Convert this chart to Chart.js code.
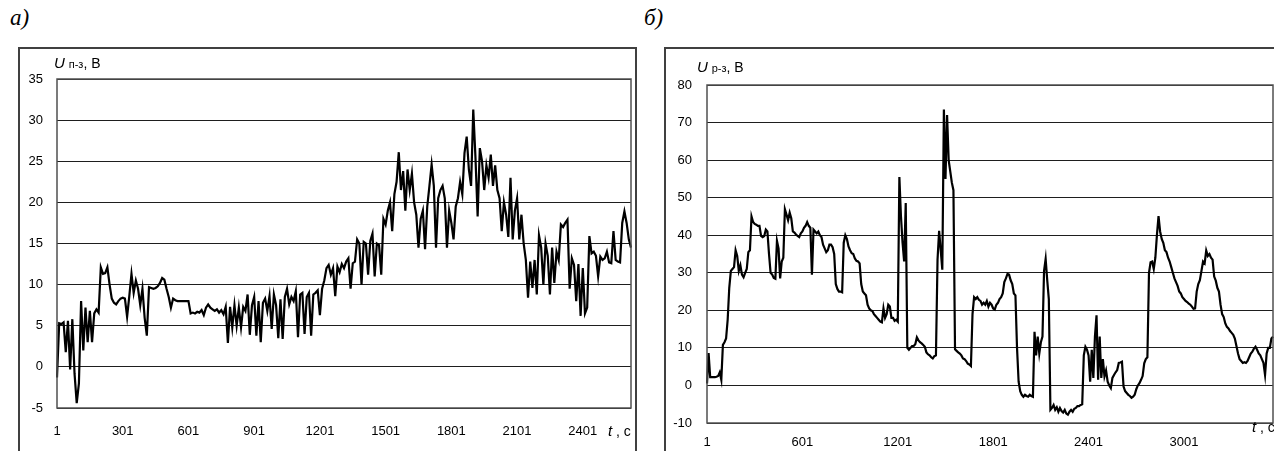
<!DOCTYPE html>
<html>
<head>
<meta charset="utf-8">
<script src="https://cdn.jsdelivr.net/npm/chart.js@4.4.1/dist/chart.umd.min.js"></script>
<style>
  body { margin: 0; width: 1274px; height: 451px; overflow: hidden; background: #fff; position: relative; }
  .fig { position: absolute; top: 5px; font: italic 23px "Liberation Serif", "Times New Roman", serif; color: #000; }
  .panel { position: absolute; top: 47px; height: 420px; border: 2px solid #404040; }
  .panel canvas { position: absolute; left: 0; top: 0; }
  .ttl { position: absolute; font: 14px "Liberation Sans", Arial, sans-serif; color: #000; white-space: nowrap; }
  .ttl i { font-size: 15px; }
  .ttl small { font-size: 11px; }
</style>
</head>
<body>
<div class="fig" style="left:10px">а)</div>
<div class="fig" style="left:644px">б)</div>

<div class="panel" style="left:18px; width:615px;">
  <canvas id="chartA" width="615" height="402"></canvas>
</div>
<div class="panel" style="left:664px; width:640px;">
  <canvas id="chartB" width="627" height="402"></canvas>
</div>

<div class="ttl" style="left:54px; top:54px;"><i>U</i> <small>п-з</small>, В</div>
<div class="ttl" style="left:697px; top:58px;"><i>U</i> <small>р-з</small>, В</div>
<div class="ttl" style="left:608px; top:422px;"><i>t</i> , с</div>
<div class="ttl" style="left:1252px; top:418px;"><i>t</i> , с</div>

<script>
// sample step between stored points (seconds)
const STEP_A = 10;
const STEP_B = 10;

// а) U п-з, В — every 10th sample, t = 1, 11, 21 ...
const uA = [
  -1.3, 5.3, 5.2, 5.4, 1.8, 5.6, -0.3, 5.8, -0.8, -4.4,
  -2.0, 8.0, 2.0, 7.2, 3.0, 6.8, 3.0, 6.5, 7.0, 6.6,
  12.1, 11.3, 11.4, 12.1, 10.0, 8.3, 7.8, 7.6, 8.0, 8.3,
  8.4, 8.3, 6.1, 8.6, 11.3, 9.0, 10.5, 9.5, 7.5, 9.5,
  6.0, 3.8, 9.7, 9.6, 9.5, 9.6, 9.8, 10.2, 10.8, 10.6,
  9.5, 8.5, 7.2, 8.3, 8.1, 8.0, 8.0, 8.0, 8.0, 8.0,
  8.0, 6.5, 6.6, 6.5, 6.7, 6.6, 6.9, 6.3, 7.2, 7.6,
  7.2, 7.0, 6.8, 7.0, 6.6, 6.9, 6.4, 7.3, 2.9, 7.3,
  4.8, 7.5, 5.0, 7.2, 4.8, 7.3, 6.8, 8.8, 3.9, 7.5,
  8.5, 3.8, 8.0, 3.0, 7.8, 8.3, 6.8, 8.6, 4.6, 8.8,
  7.5, 3.5, 8.2, 3.4, 8.5, 9.5, 7.6, 8.5, 8.0, 9.2,
  3.6, 8.8, 9.0, 4.0, 8.5, 9.0, 3.8, 8.8, 9.0, 9.3,
  6.3, 9.5, 10.5, 12.0, 12.4, 11.2, 12.0, 8.6, 12.2, 11.5,
  12.5, 12.0, 12.8, 13.2, 9.5, 12.6, 12.8, 15.5, 15.0, 10.0,
  15.2, 15.0, 11.2, 15.3, 16.2, 11.0, 15.0, 14.8, 11.2, 18.0,
  17.3, 19.0, 20.0, 16.5, 21.0, 22.5, 26.1, 21.5, 23.8, 19.0,
  24.0, 21.5, 23.5, 20.0, 18.5, 14.5, 18.0, 19.0, 14.3, 19.5,
  22.0, 24.6, 22.0, 14.5, 20.5, 21.5, 22.0, 20.5, 14.5, 19.0,
  17.5, 15.5, 19.5, 20.5, 22.5, 21.0, 26.0, 28.0, 24.0, 22.0,
  31.3, 25.5, 18.3, 26.6, 25.0, 21.5, 24.5, 23.0, 25.8, 22.0,
  24.5, 21.5, 20.5, 16.5, 20.0, 18.5, 15.8, 23.0, 15.5, 19.0,
  20.5, 15.5, 18.5, 15.0, 13.0, 8.4, 12.8, 9.6, 13.0, 8.8,
  16.0, 14.5, 10.0, 15.0, 13.5, 8.8, 14.5, 10.2, 14.0, 13.0,
  17.3, 17.0, 17.5, 17.9, 9.5, 13.2, 12.4, 8.0, 12.5, 6.2,
  12.0, 6.5, 7.2, 15.9, 13.8, 14.0, 13.5, 11.0, 13.4, 13.0,
  13.2, 14.0, 12.7, 12.6, 16.5, 13.0, 12.8, 12.7, 17.5, 18.9,
  17.5, 15.5, 14.5
];

// б) U р-з, В — every 10th sample
const uB = [
  0.5, 8.6, 2.2, 2.2, 2.2, 2.2, 2.3, 2.5, 3.5, 1.5,
  10.8, 11.5, 12.5, 17.5, 26.0, 30.5, 31.0, 31.5, 36.0, 34.5,
  30.5, 32.0, 29.5, 28.8, 30.0, 31.0, 35.5, 36.0, 45.0, 43.5,
  43.0, 42.8, 42.5, 42.5, 39.8, 39.5, 39.8, 41.5, 41.0, 35.0,
  30.0, 29.5, 28.6, 28.4, 38.5, 36.5, 28.5, 33.0, 34.0, 46.9,
  45.5, 44.0, 46.0, 44.5, 41.0, 40.7, 40.2, 39.8, 39.5, 40.5,
  41.0, 42.0, 42.5, 43.5, 42.5, 42.0, 29.5, 41.5, 41.0, 40.5,
  41.0, 40.0, 39.5, 37.5, 36.5, 35.5, 36.0, 37.5, 37.5, 36.8,
  35.0, 27.0, 25.7, 25.0, 25.0, 24.8, 38.0, 40.0, 39.0, 37.0,
  36.0, 35.2, 35.0, 33.8, 33.2, 33.0, 32.5, 27.0, 25.0, 24.5,
  24.0, 21.5, 20.5, 20.0, 19.8, 19.0, 18.5, 18.0, 17.5, 17.0,
  16.8, 20.5, 18.0, 19.0, 21.5, 21.0, 18.0, 18.0, 17.2, 17.5,
  17.0, 55.5, 45.0, 38.0, 33.0, 48.6, 10.0, 9.5, 10.0, 10.5,
  10.5, 11.0, 12.8, 12.0, 11.5, 11.2, 10.8, 10.3, 8.8, 8.3,
  8.0, 7.5, 7.2, 7.8, 8.0, 33.5, 41.2, 36.0, 30.8, 73.5,
  55.0, 72.0, 60.0, 57.0, 54.0, 52.0, 9.6, 9.2, 8.8, 8.5,
  8.0, 7.2, 7.0, 6.5, 5.8, 5.6, 5.2, 19.0, 23.5, 23.0,
  23.5, 22.8, 22.5, 21.5, 22.0, 21.5, 22.5, 21.0, 22.0, 21.5,
  20.5, 20.2, 21.5, 22.0, 23.0, 23.5, 24.5, 27.5, 28.5, 29.7,
  29.5, 28.0, 27.0, 24.5, 24.0, 10.0, 1.0, -1.5, -2.5, -3.0,
  -2.5, -2.8, -3.0, -2.5, -2.8, -3.0, 14.3, 8.0, 13.0, 8.5,
  11.5, 13.0, 30.5, 33.7, 28.0, 23.0, -6.5, -6.0, -5.2, -6.5,
  -5.8, -7.0, -6.0, -6.8, -7.2, -6.5, -7.5, -7.8, -7.0, -6.5,
  -7.0, -6.2, -6.0, -5.5, -5.5, -5.2, -5.0, 8.0, 10.3, 9.5,
  8.0, 1.0, 9.5, 2.0, 13.0, 18.7, 1.5, 13.0, 2.0, 7.0,
  2.4, 4.0, 1.0, 0.0, -0.7, 2.0, 2.8, 3.5, 4.1, 6.0,
  6.1, 6.3, -0.3, -1.5, -2.0, -2.5, -2.8, -3.3, -3.0, -2.5,
  -1.0, 0.0, 0.6, 1.5, 2.5, 5.9, 7.0, 7.5, 30.0, 32.8,
  33.0, 31.0, 34.0, 40.1, 45.1, 41.0, 39.0, 38.0, 36.0, 35.5,
  34.0, 33.0, 31.5, 30.0, 28.5, 27.5, 26.5, 25.0, 24.5, 23.5,
  23.0, 22.5, 22.2, 21.8, 21.5, 21.0, 20.4, 20.5, 25.0, 27.0,
  28.0, 30.5, 33.0, 32.5, 35.9, 34.5, 35.0, 34.0, 33.5, 29.0,
  27.9, 26.0, 25.0, 21.5, 19.0, 18.2, 16.5, 15.6, 15.2, 14.5,
  14.0, 13.5, 12.5, 10.5, 8.5, 7.0, 6.5, 6.0, 6.2, 6.0,
  6.5, 7.5, 8.5, 9.0, 9.8, 10.3, 9.5, 8.5, 8.0, 7.0,
  6.0, 2.8, 8.5, 10.0, 10.0, 12.5, 13.0
];

// tick label settings
const LABEL_EVERY_A = 300;
const LABEL_EVERY_B = 600;
const Y_A = { min: -5, max: 35, step: 5 };
const Y_B = { min: -10, max: 80, step: 10 };

const tA = uA.map((v, k) => 1 + k * STEP_A);
const tB = uB.map((v, k) => 1 + k * STEP_B);

// frame round the plot area
const plotFrame = {
  id: "plotFrame",
  afterDraw(chart) {
    const { ctx, chartArea: a } = chart;
    ctx.save();
    ctx.strokeStyle = "#505050";
    ctx.lineWidth = 1.5;
    ctx.strokeRect(a.left, a.top, a.right - a.left, a.bottom - a.top);
    ctx.restore();
  },
};

const tickFont = { family: "'Liberation Sans', Arial, sans-serif", size: 13 };

function makeChart(id, labels, values, yCfg, every, box) {
  return new Chart(document.getElementById(id), {
    type: "line",
    data: {
      labels: labels,
      datasets: [{
        data: values,
        borderColor: "#000",
        borderWidth: 2.2,
        pointRadius: 0,
        tension: 0,
        fill: false,
      }],
    },
    options: {
      responsive: false,
      animation: false,
      devicePixelRatio: 1,
      layout: { padding: { top: box.top, right: box.right, left: 0, bottom: 0 } },
      plugins: { legend: { display: false }, tooltip: { enabled: false } },
      scales: {
        x: {
          type: "category",
          grid: { display: false, drawTicks: false },
          border: { display: false },
          ticks: {
            autoSkip: false,
            maxRotation: 0,
            padding: box.xPad,
            color: "#000",
            font: tickFont,
            callback: function (val) {
              const t = this.getLabelForValue(val);
              return (t - 1) % every === 0 ? String(t) : null;
            },
          },
          afterFit: (s) => { s.height = box.xH; },
        },
        y: {
          min: yCfg.min,
          max: yCfg.max,
          grid: { color: "#1e1e1e", lineWidth: 1, drawTicks: false },
          border: { display: false },
          ticks: { stepSize: yCfg.step, padding: box.yPad, color: "#000", font: tickFont },
          afterFit: (s) => { s.width = box.yW; },
        },
      },
    },
    plugins: [plotFrame],
  });
}

makeChart("chartA", tA, uA, Y_A, LABEL_EVERY_A, { top: 30, right: 4, xH: 43, yW: 37, xPad: 16, yPad: 14 });
makeChart("chartB", tB, uB, Y_B, LABEL_EVERY_B, { top: 36, right: 20, xH: 28, yW: 41, xPad: 12, yPad: 15 });
</script>
</body>
</html>
